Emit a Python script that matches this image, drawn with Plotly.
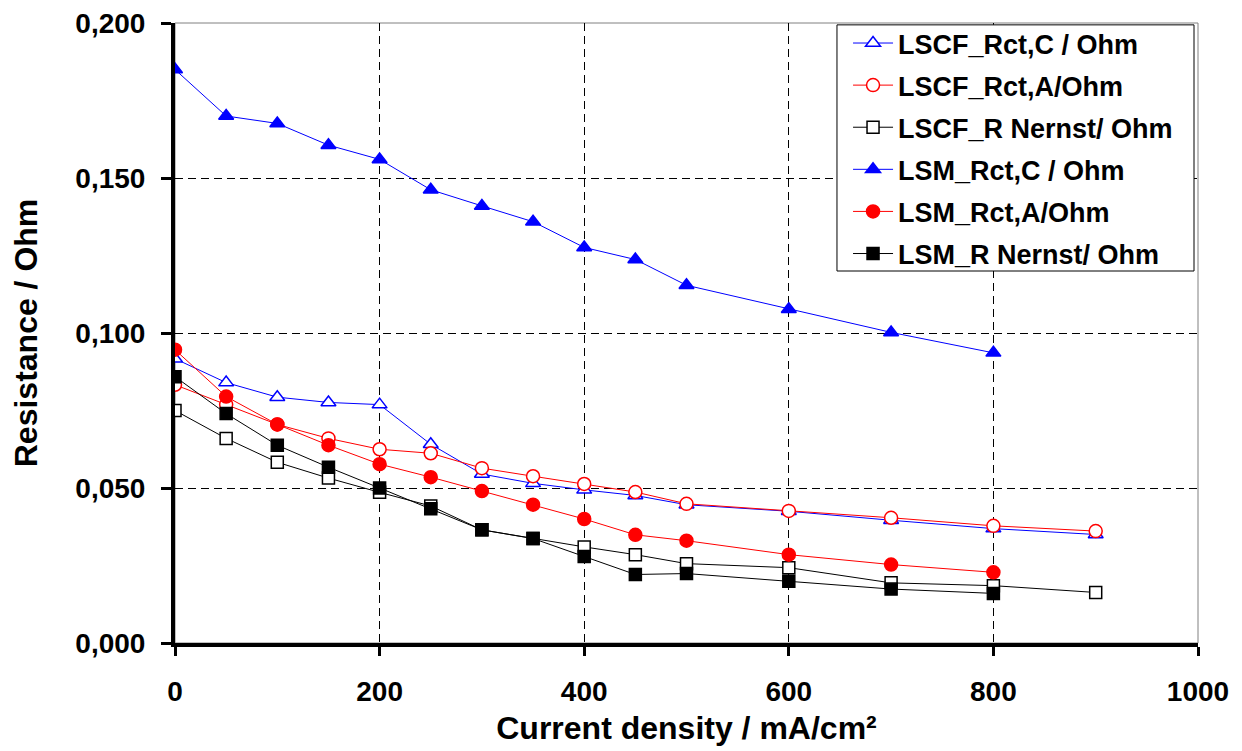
import plotly.graph_objects as go

x_lscf = [0, 50, 100, 150, 200, 250, 300, 350, 400, 450, 500, 600, 700, 800, 900]
x_lsm = [0, 50, 100, 150, 200, 250, 300, 350, 400, 450, 500, 600, 700, 800]

lscf_rct_c = [0.0917, 0.0840, 0.0793, 0.0776, 0.0769, 0.0641, 0.0545, 0.0515, 0.0494, 0.0476,
              0.0446, 0.0425, 0.0396, 0.0369, 0.0350]
lscf_rct_a = [0.0833, 0.0769, 0.0705, 0.0660, 0.0625, 0.0612, 0.0564, 0.0538, 0.0513, 0.0487,
              0.0449, 0.0426, 0.0404, 0.0378, 0.0361]
lscf_r_nernst = [0.0750, 0.0660, 0.0583, 0.0532, 0.0486, 0.0442, 0.0365, 0.0337, 0.0310, 0.0285,
                 0.0256, 0.0243, 0.0194, 0.0185, 0.0163]
lsm_rct_c = [0.1850, 0.1700, 0.1676, 0.1606, 0.1560, 0.1462, 0.1410, 0.1359, 0.1276, 0.1237,
             0.1154, 0.1077, 0.1002, 0.0936]
lsm_rct_a = [0.0946, 0.0795, 0.0705, 0.0638, 0.0577, 0.0535, 0.0490, 0.0446, 0.0400, 0.0349,
             0.0330, 0.0285, 0.0253, 0.0228]
lsm_r_nernst = [0.0859, 0.0740, 0.0638, 0.0567, 0.0500, 0.0433, 0.0365, 0.0337, 0.0279, 0.0221,
                0.0224, 0.0199, 0.0174, 0.0160]

names = ["LSCF_Rct,C / Ohm", "LSCF_Rct,A/Ohm", "LSCF_R Nernst/ Ohm",
         "LSM_Rct,C / Ohm", "LSM_Rct,A/Ohm", "LSM_R Nernst/ Ohm"]

FONT = "Liberation Sans, Arial, sans-serif"

series = [
    (x_lscf, lscf_rct_c, names[0], "#0000FF", "triangle-up", "white", 13),
    (x_lscf, lscf_rct_a, names[1], "#FF0000", "circle", "white", 13),
    (x_lscf, lscf_r_nernst, names[2], "#000000", "square", "white", 12),
    (x_lsm, lsm_rct_c, names[3], "#0000FF", "triangle-up", "#0000FF", 13),
    (x_lsm, lsm_rct_a, names[4], "#FF0000", "circle", "#FF0000", 13),
    (x_lsm, lsm_r_nernst, names[5], "#000000", "square", "#000000", 12),
]

fig = go.Figure()
for i, (xs, ys, nm, col, sym, fill, sz) in enumerate(series):
    fig.add_trace(go.Scatter(
        x=xs, y=ys, name=nm, mode="lines+markers",
        line=dict(color=col, width=1),
        marker=dict(symbol=sym, size=sz, color=fill, line=dict(color=col, width=1.5)),
        legendgroup=f"g{i}",
    ))

# thin grey frame on top/right of the plot area
fig.add_shape(type="rect", xref="paper", yref="paper", x0=0, x1=1, y0=0, y1=1,
              line=dict(color="#808080", width=1), layer="below")

# legend frame (white box with thin black border)
fig.add_shape(type="rect", xref="paper", yref="paper",
              x0=0.6471, x1=0.9961, y0=0.600, y1=0.997,
              fillcolor="white", line=dict(color="black", width=1), layer="above")

fig.update_layout(
    width=1242, height=751,
    margin=dict(l=167, r=52, t=15, b=116, autoexpand=False),
    paper_bgcolor="white", plot_bgcolor="white",
    separators=", ",
    font=dict(family=FONT, color="black"),
    showlegend=True,
    legend=dict(
        x=0.6579, xanchor="left", y=1.0065, yanchor="top",
        bgcolor="rgba(0,0,0,0)", borderwidth=0,
        font=dict(family=FONT, size=27, weight="bold", color="black"),
        itemwidth=40, tracegroupgap=4, traceorder="grouped",
    ),
    xaxis=dict(
        range=[0, 1000], tickvals=[0, 200, 400, 600, 800, 1000], tickformat="d",
        showline=True, linecolor="black", linewidth=4,
        ticks="outside", ticklen=9, tickwidth=3, tickcolor="black",
        showgrid=True, gridcolor="black", gridwidth=1, griddash="8px,5px",
        zeroline=False, automargin=False, ticklabeloverflow="allow",
        tickfont=dict(family=FONT, size=28, weight="bold"),
        ticklabelstandoff=11,
        title=dict(text="Current density / mA/cm²", standoff=12,
                   font=dict(family=FONT, size=32, weight="bold")),
    ),
    yaxis=dict(
        range=[0, 0.2], tickvals=[0, 0.05, 0.1, 0.15, 0.2], tickformat=".3f",
        showline=True, linecolor="black", linewidth=4,
        ticks="outside", ticklen=10, tickwidth=3, tickcolor="black",
        showgrid=True, gridcolor="black", gridwidth=1, griddash="8px,5px",
        zeroline=False, automargin=False, ticklabeloverflow="allow",
        tickfont=dict(family=FONT, size=28, weight="bold"),
        ticklabelstandoff=10,
        title=dict(text="Resistance / Ohm", standoff=29,
                   font=dict(family=FONT, size=32, weight="bold")),
    ),
)

fig.write_html("out.html")
